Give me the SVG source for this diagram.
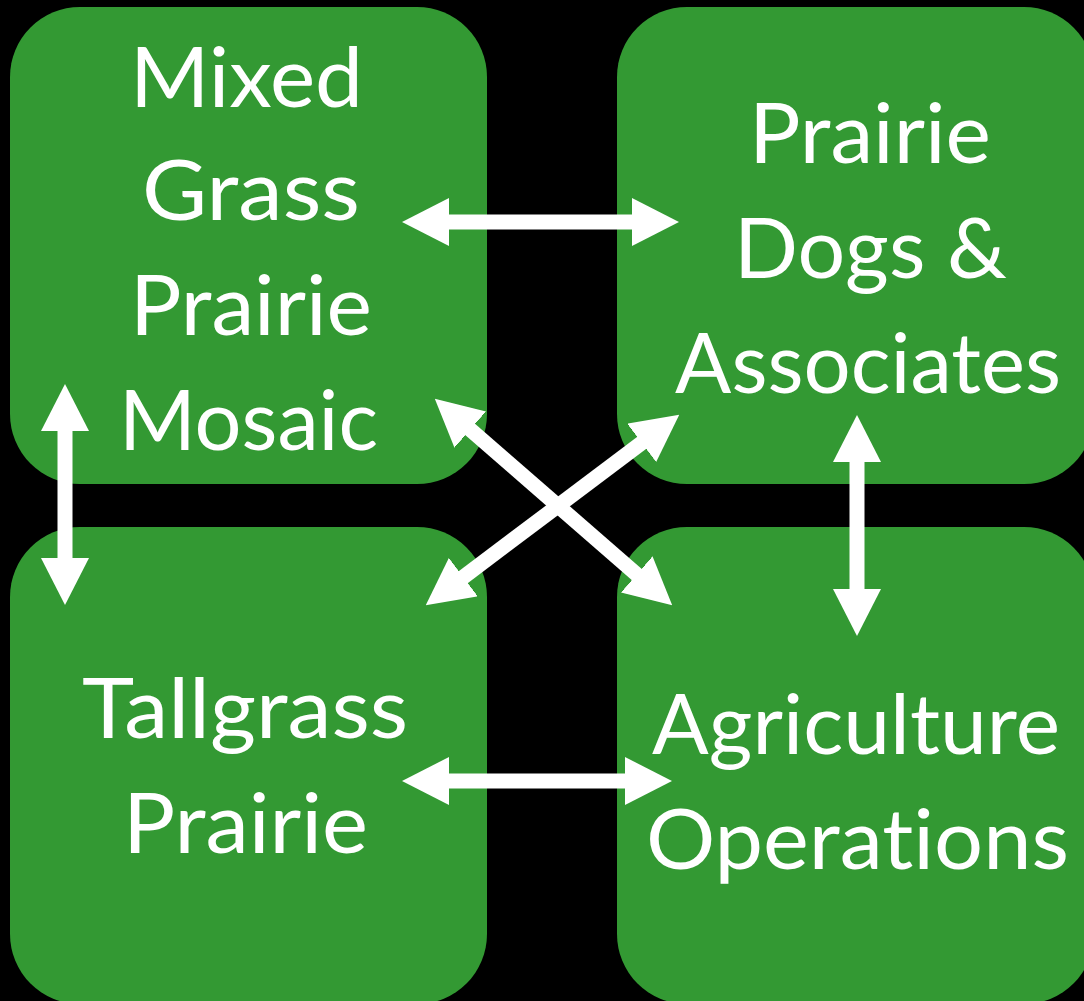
<svg xmlns="http://www.w3.org/2000/svg" width="1084" height="1001" viewBox="0 0 1084 1001">
  <style>
    .box { fill: #339933; }
    .lbl { fill: #ffffff; font-family: Lato, "Open Sans", "Liberation Sans", sans-serif; font-size: 84px; font-weight: 400; font-variant-ligatures: none; font-feature-settings: "liga" 0, "clig" 0; }
    .conn { stroke: #ffffff; stroke-width: 15; fill: none; marker-start: url(#head); marker-end: url(#head); }
  </style>
  <defs>
    <marker id="head" viewBox="0 0 47 48" refX="1" refY="24" markerWidth="47" markerHeight="48" markerUnits="userSpaceOnUse" orient="auto-start-reverse">
      <path d="M0,0 L47,24 L0,48 Z" fill="#ffffff"/>
    </marker>
  </defs>
  <rect x="0" y="0" width="1084" height="1001" fill="#000000"/>

  <g id="node-mixed-grass">
    <rect class="box" x="10" y="7" width="477" height="477" rx="70" ry="70"/>
    <text class="lbl" x="130" y="107" textLength="233" lengthAdjust="spacingAndGlyphs">Mixed</text>
    <text class="lbl" x="142" y="220" textLength="218" lengthAdjust="spacingAndGlyphs">Grass</text>
    <text class="lbl" x="130" y="335" textLength="242" lengthAdjust="spacingAndGlyphs">Prairie</text>
    <text class="lbl" x="119" y="450" textLength="259" lengthAdjust="spacingAndGlyphs">Mosaic</text>
  </g>

  <g id="node-prairie-dogs">
    <rect class="box" x="617" y="7" width="477" height="477" rx="70" ry="70"/>
    <text class="lbl" x="749" y="163" textLength="242" lengthAdjust="spacingAndGlyphs">Prairie</text>
    <text class="lbl" x="734" y="278" textLength="273" lengthAdjust="spacingAndGlyphs">Dogs &amp;</text>
    <text class="lbl" x="675" y="393" textLength="386" lengthAdjust="spacingAndGlyphs">Associates</text>
  </g>

  <g id="node-tallgrass">
    <rect class="box" x="10" y="527" width="477" height="477" rx="70" ry="70"/>
    <text class="lbl" x="82" y="738" textLength="326" lengthAdjust="spacingAndGlyphs">Tallgrass</text>
    <text class="lbl" x="123" y="853" textLength="245" lengthAdjust="spacingAndGlyphs">Prairie</text>
  </g>

  <g id="node-agriculture">
    <rect class="box" x="617" y="527" width="477" height="477" rx="70" ry="70"/>
    <text class="lbl" x="652" y="754" textLength="408" lengthAdjust="spacingAndGlyphs">Agriculture</text>
    <text class="lbl" x="646" y="869" textLength="423" lengthAdjust="spacingAndGlyphs">Operations</text>
  </g>

  <g id="connectors">
    <line class="conn" x1="448" y1="222" x2="633" y2="222"/>
    <line class="conn" x1="448" y1="781" x2="626" y2="781"/>
    <line class="conn" x1="65" y1="430" x2="65" y2="559"/>
    <line class="conn" x1="857" y1="461" x2="857" y2="590"/>
    <line class="conn" x1="469.5" y1="428.9" x2="637.5" y2="575.1"/>
    <line class="conn" x1="462.5" y1="577.7" x2="642.5" y2="442.3"/>
  </g>
</svg>
